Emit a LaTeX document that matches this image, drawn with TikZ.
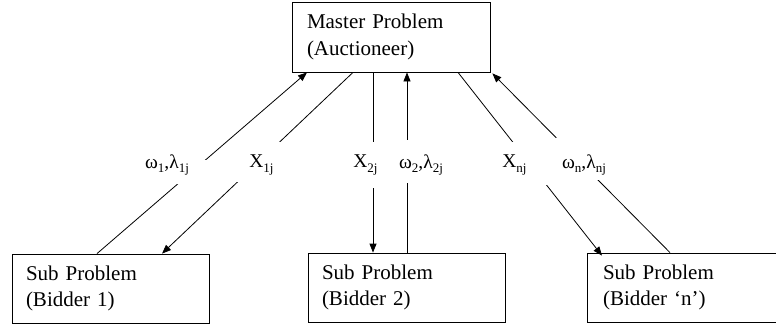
\documentclass[tikz,border=0pt]{standalone}
\usepackage{fontspec}
\setmainfont{Liberation Serif}
\usetikzlibrary{arrows.meta}
\newcommand{\sbs}[1]{\raisebox{-0.22em}{\fontsize{13}{13}\selectfont #1}}
\begin{document}
\begin{tikzpicture}[x=1pt,y=-1pt,
  box/.style={draw, line width=0.8pt, minimum height=69pt, text width=169pt,
    align=left, inner xsep=14pt, font=\fontsize{21}{26.5}\selectfont},
  arr/.style={draw, line width=0.8pt, -{Triangle[length=9pt,width=7pt]}},
  gap/.style={fill=white, draw=none, inner sep=0pt},
  lbl/.style={inner sep=0pt, font=\fontsize{19.5}{19.5}\selectfont}]
\useasboundingbox (0,0) rectangle (776,327);
\node[box, text width=168pt, inner xsep=15pt, minimum height=70pt] (master) at (391,37) {Master Problem\\(Auctioneer)};
\node[box] (b1) at (110.5,288.5) {Sub Problem\\(Bidder 1)};
\node[box] (b2) at (406.5,287.5) {Sub Problem\\(Bidder 2)};
\node[box, inner xsep=16pt, text width=165pt] (b3) at (685.5,287.5) {Sub Problem\\(Bidder ‘n’)};
% connectors
\draw[arr] ([xshift=-13.5pt]b1.north) -- ([xshift=-84pt]master.south);
\draw[arr] ([xshift=-38pt]master.south) -- ([xshift=51.5pt]b1.north);
\draw[arr] ([xshift=-18pt]master.south) -- ([xshift=-33.5pt]b2.north);
\draw[arr] ([xshift=0.5pt]b2.north) -- ([xshift=16pt]master.south);
\draw[arr] ([xshift=67pt]master.south) -- ([xshift=-83.5pt,yshift=-3pt]b3.north);
\draw[arr] ([xshift=-15.5pt]b3.north) -- ([xshift=2pt,yshift=-1pt]master.south east);
% white text-box backgrounds that break the connectors
\node[gap, minimum width=74pt, minimum height=24pt] (g1) at (175,172) {};
\node[gap, minimum width=54pt, minimum height=40pt] (g2) at (263,162) {};
\node[gap, minimum width=40pt, minimum height=46pt] (g3) at (365,165) {};
\node[gap, minimum width=52pt, minimum height=43pt] (g4) at (421,161.5) {};
\node[gap, minimum width=52pt, minimum height=43pt] (g5) at (526,163.5) {};
\node[gap, minimum width=55pt, minimum height=42pt] (g6) at (582.5,159) {};
% labels
\node[lbl] (l1) at (167,165) {ω\sbs{1},λ\sbs{1j}};
\node[lbl] (l2) at (261.5,165) {X\sbs{1j}};
\node[lbl] (l3) at (365.5,165) {X\sbs{2j}};
\node[lbl] (l4) at (421,165) {ω\sbs{2},λ\sbs{2j}};
\node[lbl] (l5) at (514.5,165) {X\sbs{nj}};
\node[lbl] (l6) at (584,165) {ω\sbs{n},λ\sbs{nj}};
\end{tikzpicture}
\end{document}
